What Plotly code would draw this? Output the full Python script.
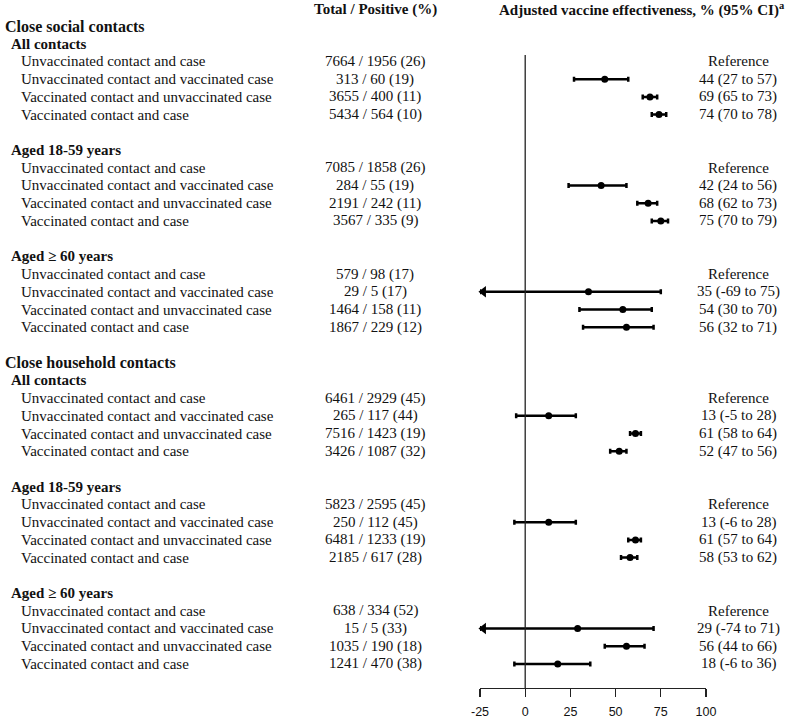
import plotly.graph_objects as go

# ---------------- data ----------------
groups = ["Close social contacts", "Close household contacts"]
subgroups = ["All contacts", "Aged 18-59 years", "Aged \u2265 60 years"]
comparisons = [
    "Unvaccinated contact and case",
    "Unvaccinated contact and vaccinated case",
    "Vaccinated contact and unvaccinated case",
    "Vaccinated contact and case",
]

totals = [
    [[7664, 313, 3655, 5434], [7085, 284, 2191, 3567], [579, 29, 1464, 1867]],
    [[6461, 265, 7516, 3426], [5823, 250, 6481, 2185], [638, 15, 1035, 1241]],
]
positives = [
    [[1956, 60, 400, 564], [1858, 55, 242, 335], [98, 5, 158, 229]],
    [[2929, 117, 1423, 1087], [2595, 112, 1233, 617], [334, 5, 190, 470]],
]
pct_positive = [
    [[26, 19, 11, 10], [26, 19, 11, 9], [17, 17, 11, 12]],
    [[45, 44, 19, 32], [45, 45, 19, 28], [52, 33, 18, 38]],
]
ve = [
    [[None, 44, 69, 74], [None, 42, 68, 75], [None, 35, 54, 56]],
    [[None, 13, 61, 52], [None, 13, 61, 58], [None, 29, 56, 18]],
]
ve_lo = [
    [[None, 27, 65, 70], [None, 24, 62, 70], [None, -69, 30, 32]],
    [[None, -5, 58, 47], [None, -6, 57, 53], [None, -74, 44, -6]],
]
ve_hi = [
    [[None, 57, 73, 78], [None, 56, 73, 79], [None, 75, 70, 71]],
    [[None, 28, 64, 56], [None, 28, 64, 62], [None, 71, 66, 36]],
]
tick_vals = [-25, 0, 25, 50, 75, 100]
tick_text = ["-25", "0", "25", "50", "75", "100"]
x_min, x_max = -25, 100

# ---------------- layout geometry ----------------
W, H = 790, 718
X_LEFT_PX, X_RIGHT_PX = 480, 706
AXIS_PX = 688
ROW0_PX, PITCH = 26, 17.72
MID_PX, RIGHT_PX = 375, 738
PX_PER_UNIT = (X_RIGHT_PX - X_LEFT_PX) / (x_max - x_min)

def px_to_slot(py):
    return (py - ROW0_PX) / PITCH

y_top = px_to_slot(0)
y_bottom = px_to_slot(AXIS_PX)

SERIF = "Liberation Serif, Times New Roman, serif"
SANS = "Liberation Sans, Arial, sans-serif"
TXT = "#111111"

annotations = []
def add_text(text, xpx, slot, anchor, size, bold=False):
    annotations.append(dict(
        text=f"<b>{text}</b>" if bold else text,
        x=xpx / W, xref="paper", y=slot, yref="y",
        xanchor=anchor, yanchor="middle", showarrow=False,
        font=dict(family=SERIF, size=size, color=TXT),
    ))

# headers
hdr = px_to_slot(9)
add_text("Total / Positive (%)", MID_PX, hdr, "center", 15, True)
add_text("Adjusted vaccine effectiveness, % (95% CI)<sup>a</sup>", 642, hdr, "center", 15, True)

pts_x, pts_y, err_plus, err_minus = [], [], [], []
arrow_y = []
slot = 0
for g, gname in enumerate(groups):
    add_text(gname, 3, slot, "left", 16, True)
    slot += 1
    for s, sname in enumerate(subgroups):
        add_text(sname, 9, slot, "left", 15, True)
        slot += 1
        for c, cname in enumerate(comparisons):
            add_text(cname, 19, slot, "left", 15)
            add_text(f"{totals[g][s][c]} / {positives[g][s][c]} ({pct_positive[g][s][c]})",
                     MID_PX, slot, "center", 15)
            v = ve[g][s][c]
            if v is None:
                add_text("Reference", RIGHT_PX, slot, "center", 15)
            else:
                lo, hi = ve_lo[g][s][c], ve_hi[g][s][c]
                add_text(f"{v} ({lo} to {hi})", RIGHT_PX, slot, "center", 15)
                lo_c = max(lo, x_min)
                pts_x.append(v)
                pts_y.append(slot)
                err_plus.append(hi - v)
                err_minus.append(v - lo_c)
                if lo < x_min:
                    arrow_y.append(slot)
            slot += 1
        slot += 1

fig = go.Figure()
fig.add_trace(go.Scatter(
    x=pts_x, y=pts_y, mode="markers",
    marker=dict(color="black", size=7),
    error_x=dict(type="data", symmetric=False, array=err_plus, arrayminus=err_minus,
                 color="black", thickness=2.5, width=2.5),
    cliponaxis=False, showlegend=False, hoverinfo="skip",
))

# arrow heads for truncated lower limits (tip just beyond the axis minimum)
ARROW_SIZE = 10
tip_offset = (ARROW_SIZE / 2) * 2 / 3 ** 0.5  # px from marker centre to tip
fig.add_trace(go.Scatter(
    x=[x_min - 1.3 + tip_offset / PX_PER_UNIT] * len(arrow_y), y=arrow_y,
    mode="markers",
    marker=dict(symbol="triangle-left", color="black", size=ARROW_SIZE,
                line=dict(width=0)),
    cliponaxis=False, showlegend=False, hoverinfo="skip",
))

shapes = [dict(type="line", xref="x", yref="y", x0=0, x1=0,
               y0=px_to_slot(55), y1=y_bottom,
               line=dict(color="#222222", width=1.3))]

fig.update_layout(
    template="none",
    width=W, height=H,
    margin=dict(l=0, r=0, t=0, b=0, pad=0, autoexpand=False),
    paper_bgcolor="white", plot_bgcolor="white",
    showlegend=False,
    annotations=annotations,
    shapes=shapes,
    xaxis=dict(
        domain=[X_LEFT_PX / W, X_RIGHT_PX / W],
        range=[x_min, x_max], tickvals=tick_vals, ticktext=tick_text,
        showgrid=False, zeroline=False, automargin=False,
        showline=True, linecolor="#222222", linewidth=1.3,
        ticks="outside", ticklen=8, tickwidth=1.3, tickcolor="#222222",
        ticklabelstandoff=4,
        tickfont=dict(family=SANS, size=12.5, color=TXT),
        fixedrange=True,
    ),
    yaxis=dict(
        domain=[(H - AXIS_PX) / H, 1],
        range=[y_bottom, y_top], automargin=False,
        visible=False, showgrid=False, zeroline=False,
        fixedrange=True,
    ),
)

fig.write_html(
    "out.html",
    config={"displayModeBar": False, "staticPlot": True},
    post_script="document.body.style.margin='0';document.body.style.overflow='hidden';",
)
